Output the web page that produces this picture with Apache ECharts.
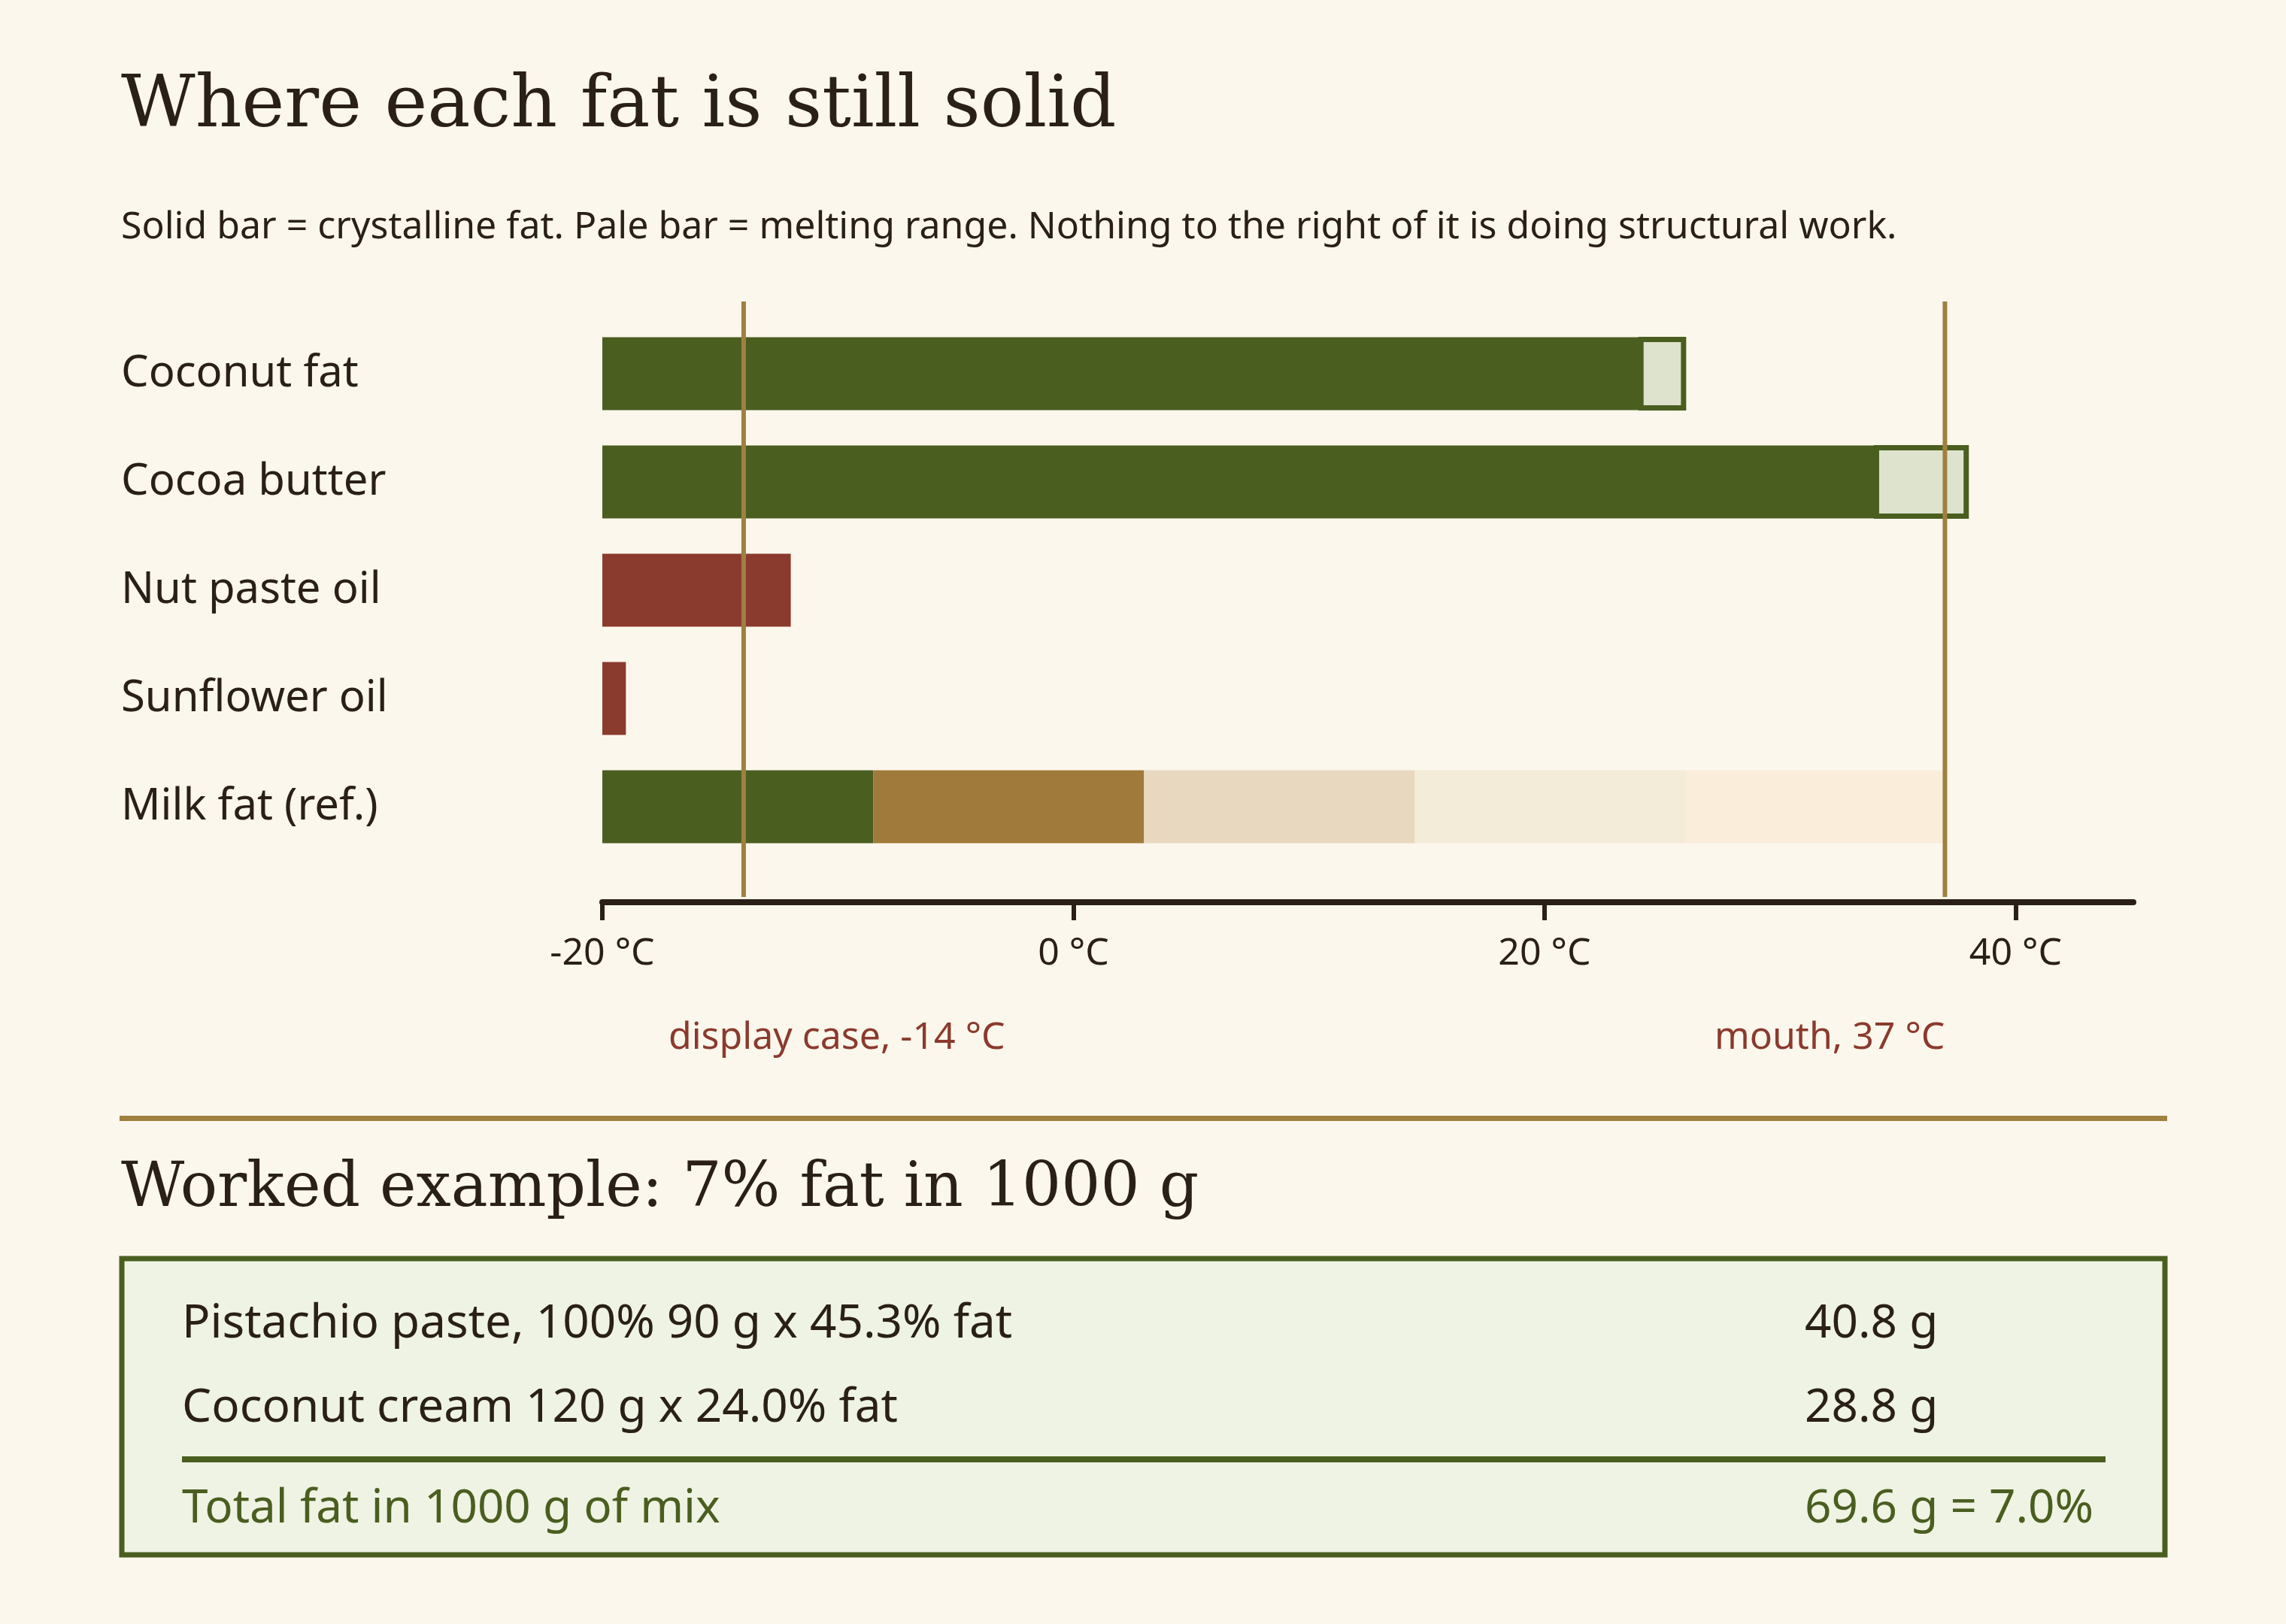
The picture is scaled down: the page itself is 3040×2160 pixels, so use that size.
<!DOCTYPE html>
<html><head><meta charset="utf-8">
<script src="https://cdn.jsdelivr.net/npm/echarts@6/dist/echarts.min.js"></script>
<style>html,body{margin:0;padding:0;background:#fcf7ec}#c{width:3040px;height:2160px}</style>
</head><body><div id="c"></div>
<script>
const categories = ['Coconut fat','Cocoa butter','Nut paste oil','Sunflower oil','Milk fat (ref.)'];
const solidEnd = [24, 34, -12, -19, null];
const meltEnd = [26, 38, null, null, null];
const solidKind = ['solid','solid','liquid','liquid','solid'];
const milkBreaks = [-20, -8.5, 3, 14.5, 26, 37];
const milkColors = ['#4a5e20','#a07a3a','#e8d8c0','#f3ecd8','#faeedb'];
const refTemps = [-14, 37];
const refLabels = ['display case, -14 °C','mouth, 37 °C'];
const xTicks = [-20, 0, 20, 40];
const rows = [['Pistachio paste, 100% 90 g x 45.3% fat','40.8 g'],['Coconut cream 120 g x 24.0% fat','28.8 g']];
const totalRow = ['Total fat in 1000 g of mix','69.6 g = 7.0%'];

const GREEN='#4a5e20', RED='#8b3a2e', GOLD='#a08040', INK='#2a2018';
const sans='"Noto Sans", "Open Sans", sans-serif', serif='"DejaVu Serif", Georgia, serif';

const barData=[];
categories.forEach((c,i)=>{
  if(i===4){ for(let k=0;k<milkColors.length;k++) barData.push([milkBreaks[k],milkBreaks[k+1],i,milkColors[k],0]); }
  else {
    barData.push([-20,solidEnd[i],i,solidKind[i]==='solid'?GREEN:RED,0]);
    if(meltEnd[i]!=null) barData.push([solidEnd[i],meltEnd[i],i,'#dde3cd',1]);
  }
});

const chart=echarts.init(document.getElementById('c'));
const graphic=[
 {type:'text',left:161,top:95,style:{text:'Where each fat is still solid',font:'96px '+serif,fill:INK}},
 {type:'text',left:161,top:278,style:{text:'Solid bar = crystalline fat. Pale bar = melting range. Nothing to the right of it is doing structural work.',font:'50px '+sans,fill:INK}},
 {type:'rect',shape:{x:159,y:1484,width:2723,height:7},style:{fill:GOLD}},
 {type:'text',left:161,top:1542,style:{text:'Worked example: 7% fat in 1000 g',font:'82px '+serif,fill:INK}},
 {type:'rect',shape:{x:162,y:1674,width:2717,height:394},style:{fill:'#eff3e3',stroke:GREEN,lineWidth:7}},
 {type:'rect',shape:{x:242,y:1937,width:2558,height:8},style:{fill:GREEN}}
];
const rowY=[1761,1873];
rows.forEach((r,i)=>{
  graphic.push({type:'text',x:242,y:rowY[i],style:{text:r[0],font:'62px '+sans,fill:INK,textVerticalAlign:'middle'}});
  graphic.push({type:'text',x:2400,y:rowY[i],style:{text:r[1],font:'62px '+sans,fill:INK,textVerticalAlign:'middle'}});
});
graphic.push({type:'text',x:242,y:2007,style:{text:totalRow[0],font:'62px '+sans,fill:GREEN,textVerticalAlign:'middle'}});
graphic.push({type:'text',x:2400,y:2007,style:{text:totalRow[1],font:'62px '+sans,fill:GREEN,textVerticalAlign:'middle'}});

chart.setOption({
  backgroundColor:'#fcf7ec',
  animation:false,
  graphic,
  grid:{left:801,right:203,top:425,bottom:1015,containLabel:false},
  xAxis:{type:'value',min:-20,max:45,interval:20,offset:55,splitLine:{show:false},
    axisLine:{show:true,lineStyle:{color:INK,width:8}},
    axisTick:{show:true,length:24,lineStyle:{color:INK,width:6},customValues:xTicks},
    axisLabel:{margin:44,fontSize:50,fontFamily:sans,color:INK,customValues:xTicks,formatter:v=>v+' °C'}},
  yAxis:{type:'category',data:categories,inverse:true,axisLine:{show:false},axisTick:{show:false},
    axisLabel:{margin:640,align:'left',fontSize:58,fontFamily:sans,color:INK}},
  series:[
   {type:'custom',data:barData,encode:{x:[0,1],y:2},z:2,renderItem:(p,api)=>{
      const a=api.coord([api.value(0),api.value(2)]), b=api.coord([api.value(1),api.value(2)]);
      const h=97, pale=api.value(4)===1;
      const col=barData[p.dataIndex][3];
      return {type:'rect',shape:{x:a[0]+(pale?3:0),y:a[1]-h/2+(pale?3:0),width:b[0]-a[0]-(pale?6:0),height:h-(pale?6:0)},
        style:{fill:col,stroke:pale?GREEN:null,lineWidth:pale?7:0}};
   }},
   {type:'custom',data:refTemps.map((t,i)=>[t,i]),encode:{x:0},z:3,renderItem:(p,api)=>{
      const x=api.coord([api.value(0),0])[0];
      const cs=p.coordSys;
      const i=p.dataIndex;
      return {type:'group',children:[
        {type:'line',shape:{x1:x,y1:cs.y-24,x2:x,y2:cs.y+cs.height+48},style:{stroke:GOLD,lineWidth:6}},
        {type:'text',style:{x:i===0?x-100:x,y:1381,text:refLabels[i],font:'50px '+sans,fill:RED,
          textAlign:i===0?'left':'right',textVerticalAlign:'middle'}}
      ]};
   }}
  ]
});
</script></body></html>
